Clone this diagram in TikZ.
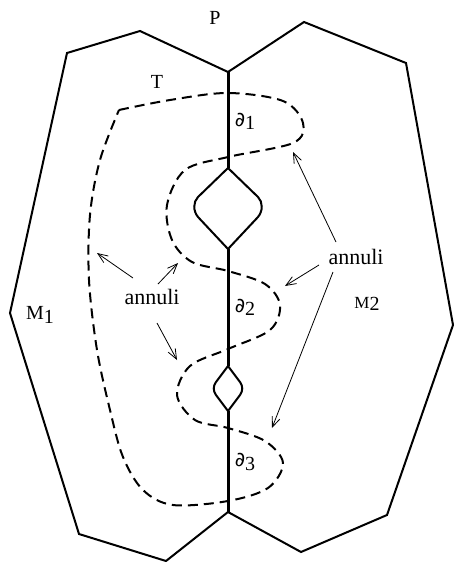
\documentclass[tikz,border=0pt]{standalone}
\usepackage{fontspec}
\setmainfont{Liberation Serif}
\newfontfamily\symfont{DejaVu Sans}
\usetikzlibrary{arrows.meta}
\newcommand\lowsub[1]{\raisebox{-0.35ex}{#1}}
\newcommand\bdry[1]{{\symfont\fontsize{10}{12}\selectfont ∂}\lowsub{#1}}
\begin{document}
\begin{tikzpicture}[x=0.5pt,y=-0.5pt,
  bound/.style={line width=1pt,line join=miter},
  spine/.style={line width=1.5pt},
  torus/.style={line width=1pt,dash pattern=on 5pt off 3pt},
  lbl/.style={inner sep=0pt,font=\fontsize{10}{12}\selectfont},
  ann/.style={inner sep=1pt,font=\fontsize{11}{13}\selectfont},
  arr/.style={line width=0.4pt,-{Straight Barb[length=5pt,width=4pt]}}]
\useasboundingbox (0,0) rectangle (454,562);
% boundary of M1 and M2
\draw[bound] (228,72) -- (140,31) -- (67,53) -- (10,313) -- (79,534) -- (166,561) -- (228,512);
\draw[bound] (228,72) -- (304,22) -- (406,63) -- (453,325) -- (387,515) -- (301,552) -- (228,512);
% central spine
\draw[spine] (228,72) -- (228,168);
\draw[spine] (228,249) -- (228,366);
\draw[spine] (228,411) -- (228,512);
% lenses
\draw[bound] (228,168) -- (198,197) .. controls (193,202) and (193,211) .. (198,217) -- (228,249)
  -- (258,217) .. controls (263,211) and (263,202) .. (258,197) -- cycle;
\draw[bound] (228,366) -- (216,382) .. controls (213,386) and (213,391) .. (216,395) -- (228,411)
  -- (240,395) .. controls (243,391) and (243,386) .. (240,382) -- cycle;
% torus T
\draw[torus] plot[smooth,tension=0.55] coordinates {
 (119,110) (170,100) (228,93) (283,101) (303,123) (293,143) (228,157) (185,170)
 (167,205) (172,240) (192,262) (228,271) (265,284) (280,305) (270,330) (228,349)
 (190,366) (177,395) (195,420) (228,428) (265,441) (283,463) (268,488) (228,501)
 (173,505) (143,490) (123,457) (110,410) (97,350) (89,280) (90,215) (100,160) (119,110)};
% labels
\node[lbl] (P) at (215,18) {P};
\node[lbl] (T) at (157,82) {T};
\node[lbl] (d1) at (245,121) {\bdry{1}};
\node[lbl] (d2) at (245,307) {\bdry{2}};
\node[lbl] (d3) at (245,462) {\bdry{3}};
\node[lbl] (M1) at (40,315) {M\lowsub{1}};
\node[lbl,font=\fontsize{8.5}{10}\selectfont] (M2) at (367,304) {M\lowsub{\fontsize{10}{12}\selectfont 2}};
\node[ann] (annL) at (152,297) {annuli};
\node[ann] (annR) at (356,257) {annuli};
% arrow ends
\coordinate (a1s) at (133,278); \coordinate (a1e) at (97,253);
\coordinate (a2s) at (158,284); \coordinate (a2e) at (178,263);
\coordinate (a3s) at (157,323); \coordinate (a3e) at (177,360);
\coordinate (b1s) at (336,242); \coordinate (b1e) at (293,152);
\coordinate (b2s) at (319,265); \coordinate (b2e) at (285,286);
\coordinate (b3s) at (333,272); \coordinate (b3e) at (272,428);
\draw[arr] (a1s) -- (a1e);
\draw[arr] (a2s) -- (a2e);
\draw[arr] (a3s) -- (a3e);
\draw[arr] (b1s) -- (b1e);
\draw[arr] (b2s) -- (b2e);
\draw[arr] (b3s) -- (b3e);
\end{tikzpicture}
\end{document}
